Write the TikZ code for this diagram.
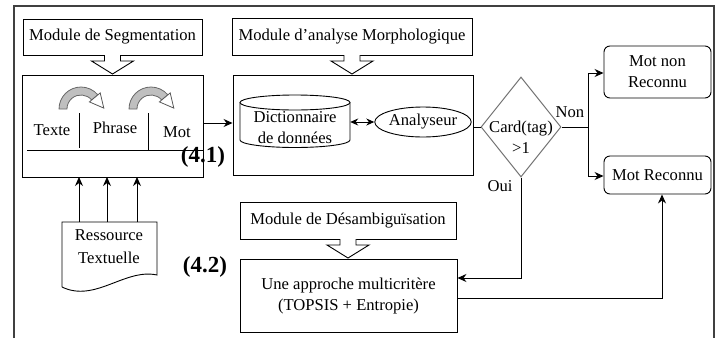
\documentclass[tikz,border=0pt]{standalone}
\usepackage{fontspec}
\setmainfont{Liberation Serif}
\usetikzlibrary{shapes.geometric,arrows.meta}
\begin{document}
\begin{tikzpicture}[x=1pt,y=1pt,
  txt/.style={font=\fontsize{16.6}{21}\selectfont, inner sep=0pt, align=center},
  box/.style={draw, line width=0.9pt, inner sep=0pt, txt},
  rbox/.style={box, rounded corners=6pt},
  conn/.style={line width=1pt, -{Stealth[length=9pt,width=8pt]}},
  plain/.style={line width=1pt},
  big/.style={font=\fontsize{23}{26}\selectfont\bfseries, inner sep=0pt},
  hollow/.style={draw, fill=white, line width=0.9pt},
  bandarrow/.style={draw=black!60, fill=black!25, line width=0.8pt},
  headarrow/.style={draw=black!65, fill=white, line width=0.8pt}]
\useasboundingbox (0,0) rectangle (721,-338);
% outer frame
\draw[line width=1.2pt, black!75] (14,-338) -- (14,-6) -- (714,-6) -- (714,-338);

% module boxes
\node[box, minimum width=179, minimum height=36] (modseg) at (112.5,-37) {Module de Segmentation};
\node[box, minimum width=240, minimum height=37] (modmorph) at (352,-36.5) {Module d’analyse Morphologique};
\node[box, minimum width=216, minimum height=37] (moddes) at (348,-220.5) {Module de Désambiguïsation};

% main boxes
\node[box, minimum width=181, minimum height=102] (segbox) at (112.5,-126) {};
\node[box, minimum width=240, minimum height=100] (morphbox) at (353,-125) {};
\node[box, minimum width=217, minimum height=73, align=center] (une) at (348.5,-295.5) {Une approche multicritère\\(TOPSIS + Entropie)};

% hollow block arrows
\foreach \cx/\ty in {112.5/-55, 352/-55, 348/-239}{
  \draw[hollow] (\cx-8,\ty) -- (\cx-8,\ty-6) -- (\cx-21,\ty-6) -- (\cx,\ty-19) -- (\cx+21,\ty-6) -- (\cx+8,\ty-6) -- (\cx+8,\ty);
}

% segmentation internals
\draw[plain] (27,-150) -- (segbox.east |- 0,-150);
\draw[plain] (79,-113) -- (79,-148);
\draw[plain] (148,-113) -- (148,-150);
\node[txt] (texte) at (52,-130) {Texte};
\node[txt] (phrase) at (115,-128) {Phrase};
\node[txt] (mot) at (177,-132) {Mot};
\foreach \ox in {59,129}{
  \begin{scope}[shift={(\ox,-109)}]
    \draw[bandarrow] (0,0) arc[start angle=180,end angle=40,radius=22] -- (32.7,9.0) arc[start angle=40,end angle=180,radius=14] -- cycle;
    \draw[headarrow] (41.2,16.1) -- (44.8,0.9) -- (30.4,7.1) -- cycle;
  \end{scope}
}
\node[big] (l41) at (203,-157) {(4.1)};
\node[big] (l42) at (205,-267) {(4.2)};

% cylinder: dictionnaire
\node[txt, minimum width=110, minimum height=40] (dict) at (295,-128) {Dictionnaire\\de données};
\draw[line width=0.9pt] (240,-102.5) -- (240,-140) arc[start angle=180,end angle=360,x radius=55,y radius=7.5] -- (350,-102.5);
\draw[line width=0.9pt] (295,-102.5) ellipse[x radius=55,y radius=7.5];
\node[txt, draw, ellipse, line width=0.9pt, minimum width=84, minimum height=30] (analy) at (423,-122) {Analyseur};
\draw[line width=1pt, {Stealth[length=8pt,width=7pt]}-{Stealth[length=8pt,width=7pt]}] (dict.east |- analy.west) -- (analy.west);

% decision diamond
\node[draw=black!55, line width=1pt, diamond, minimum width=80, minimum height=100, inner sep=0pt] (card) at (521,-127) {};
\node[txt] (cardtxt) at (521,-137) {Card(tag)\\>1};

% result boxes
\node[rbox, minimum width=107, minimum height=52] (nonrec) at (657.5,-72) {Mot non\\Reconnu};
\node[rbox, minimum width=107, minimum height=38] (rec) at (657.5,-175) {Mot Reconnu};

% ressource document
\node[minimum width=95, minimum height=65, inner sep=0pt] (doc) at (109.5,-254.5) {};
\draw[line width=0.9pt] (62,-287) -- (62,-222) -- (157,-222) -- (157,-275) .. controls (125,-268) and (95,-303) .. (62,-287);
\node[txt, font=\fontsize{16.6}{23}\selectfont] (doctxt) at (109,-247) {Ressource\\Textuelle};

% connectors
\foreach \dx in {79,107,137}{
  \draw[conn] (\dx,-222) -- (\dx,-177);
}
\draw[conn] ([yshift=3pt]segbox.east) -- ([yshift=3pt]segbox.east -| morphbox.west);
\draw[plain] (morphbox.east |- card.west) -- (card.west);
\coordinate (split) at (588,-127);
\draw[plain] (card.east) -- (split);
\draw[conn] (split) |- ([yshift=-1pt]nonrec.west);
\draw[conn] (split) |- ([yshift=-1pt]rec.west);
\node[txt] (non) at (570,-112) {Non};
\node[txt] (oui) at (500,-186) {Oui};
\draw[conn] (card.south) |- ([yshift=17.5pt]une.east);
\draw[conn] ([yshift=-2.5pt]une.east) -| ([xshift=4.5pt]rec.south);
\end{tikzpicture}
\end{document}
